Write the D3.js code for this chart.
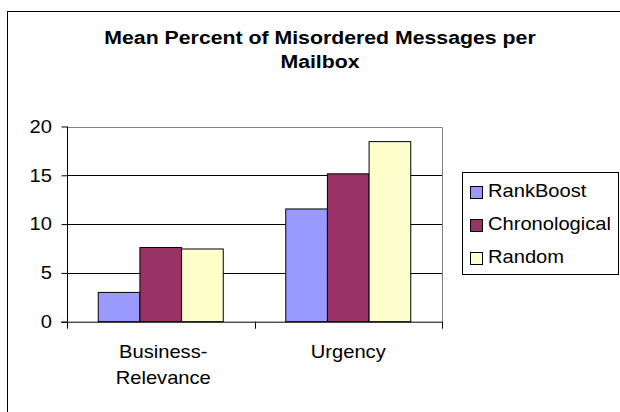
<!DOCTYPE html>
<html>
<head>
<meta charset="utf-8">
<script src="https://cdn.jsdelivr.net/npm/d3@7"></script>
<style>
body { margin: 0; background: #fff; }
svg { display: block; font-family: "Liberation Sans", Arial, sans-serif; }
</style>
</head>
<body>
<svg id="chart" width="620" height="412"></svg>
<script>
const categories = [["Business-", "Relevance"], ["Urgency"]];
const categoryKeys = ["Business-Relevance", "Urgency"];
const seriesNames = ["RankBoost", "Chronological", "Random"];
const rankBoost = [3.0, 11.55];
const chronological = [7.6, 15.15];
const random = [7.45, 18.45];
const yTicks = [0, 5, 10, 15, 20];
const colors = ["#9999FF", "#993366", "#FFFFCC"];

const seriesValues = [rankBoost, chronological, random];
const svg = d3.select("#chart");

function sText(parent, x, y, str, size, anchor, weight, sx) {
  const g = parent.append("g").attr("transform", `translate(${x},${y}) scale(${sx},1)`);
  g.append("text").attr("x", 0).attr("y", 0).attr("text-anchor", anchor)
    .attr("font-size", size).attr("font-weight", weight).attr("fill", "#000").text(str);
  return g;
}

// outer chart border
svg.append("rect").attr("x", 7.5).attr("y", 11.5).attr("width", 640).attr("height", 420)
  .attr("fill", "#fff").attr("stroke", "#000").attr("stroke-width", 1);

// title
sText(svg, 320, 44, "Mean Percent of Misordered Messages per", 19, "middle", "bold", 1.12);
sText(svg, 320, 68, "Mailbox", 19, "middle", "bold", 1.12);

const plot = { left: 67, right: 442, top: 126.5, bottom: 321.7 };
const x0 = d3.scaleBand().domain(categoryKeys).range([plot.left, plot.right]).paddingInner(0).paddingOuter(0);
const x1 = d3.scaleBand().domain(seriesNames).range([0, x0.bandwidth()]).paddingInner(0).paddingOuter(0.75);
const y = d3.scaleLinear().domain([0, 20]).range([plot.bottom, plot.top]);

// gridlines
svg.append("g").selectAll("line").data(yTicks.filter(t => t > 0 && t < 20)).join("line")
  .attr("x1", plot.left).attr("x2", plot.right)
  .attr("y1", d => Math.round(y(d)) + 0.5).attr("y2", d => Math.round(y(d)) + 0.5)
  .attr("stroke", "#000").attr("stroke-width", 1);

// plot border top/right (grey)
svg.append("path")
  .attr("d", `M${plot.left},${Math.round(y(20)) + 0.5}H${plot.right + 0.5}V${plot.bottom}`)
  .attr("fill", "none").attr("stroke", "#808080").attr("stroke-width", 1);

// bars
const groups = svg.append("g").selectAll("g").data(categoryKeys).join("g")
  .attr("transform", d => `translate(${x0(d)},0)`);
groups.selectAll("rect").data((d, i) => seriesNames.map((s, j) => ({ s, v: seriesValues[j][i], j })))
  .join("rect")
  .attr("x", d => x1(d.s)).attr("width", x1.bandwidth())
  .attr("y", d => y(d.v)).attr("height", d => y(0) - y(d.v))
  .attr("fill", d => colors[d.j]).attr("stroke", "#000").attr("stroke-width", 1);

// y axis
const yAxis = d3.axisLeft(y).tickValues(yTicks).tickSize(6).tickFormat("");
const gy = svg.append("g").attr("transform", `translate(${plot.left + 0.5},0)`).call(yAxis);
gy.select(".domain").attr("stroke", "#000").attr("d", `M0,${y(20)}V${plot.bottom}`);
gy.selectAll(".tick line").attr("stroke", "#000");
yTicks.forEach(t => sText(svg, 52, y(t) + 6.2, String(t), 17.5, "end", "normal", 1.15));

// x axis line + category boundary ticks
svg.append("line").attr("x1", plot.left - 6).attr("x2", plot.right + 0.5)
  .attr("y1", plot.bottom + 0.5).attr("y2", plot.bottom + 0.5).attr("stroke", "#000");
const bounds = [x0(categoryKeys[0]), x0(categoryKeys[1]), x0(categoryKeys[1]) + x0.bandwidth()];
svg.append("g").selectAll("line").data(bounds).join("line")
  .attr("x1", d => Math.round(d) + 0.5).attr("x2", d => Math.round(d) + 0.5)
  .attr("y1", plot.bottom).attr("y2", plot.bottom + 7).attr("stroke", "#000");

// x labels
categoryKeys.forEach((d, i) => {
  categories[i].forEach((line, k) => {
    sText(svg, x0(d) + x0.bandwidth() / 2 + (i === 0 ? 2.5 : 0), 358 + k * 26, line, 17.5, "middle", "normal", 1.15);
  });
});

// legend
const lg = svg.append("g");
lg.append("rect").attr("x", 462.5).attr("y", 172.5).attr("width", 156).attr("height", 102)
  .attr("fill", "#fff").attr("stroke", "#000");
seriesNames.forEach((s, i) => {
  lg.append("rect").attr("x", 470.5).attr("y", 186.5 + i * 33).attr("width", 12).attr("height", 12)
    .attr("fill", colors[i]).attr("stroke", "#000");
  sText(lg, 488, 197 + i * 33, s, 17.5, "start", "normal", 1.15);
});
</script>
</body>
</html>
